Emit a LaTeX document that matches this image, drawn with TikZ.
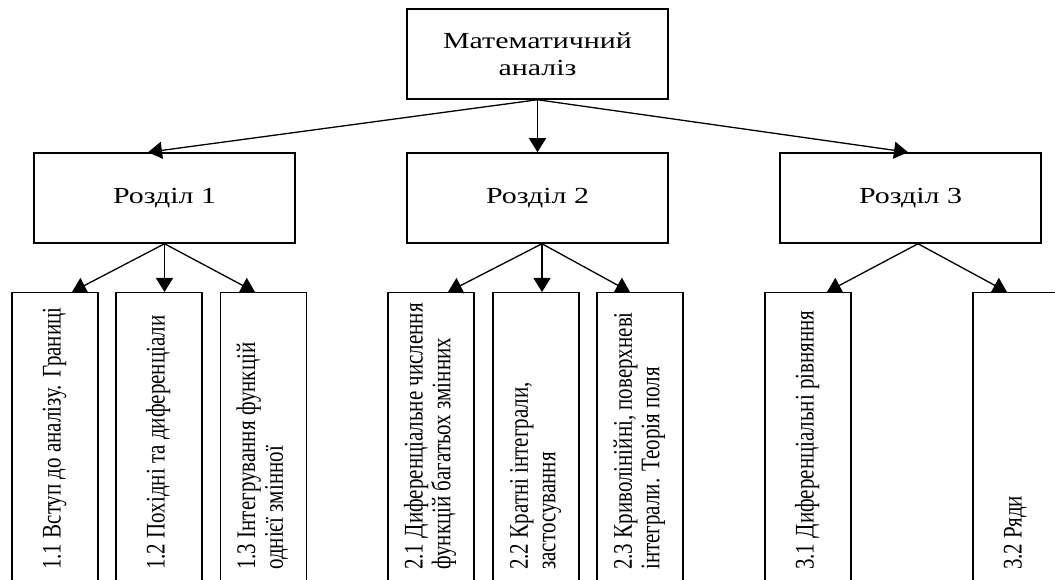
\documentclass[tikz,border=0pt]{standalone}
\usepackage{fontspec}
\setmainfont{Liberation Serif}
\newfontfamily\hfont[FakeStretch=1.3]{Liberation Serif}
\usepackage{graphicx}
\usetikzlibrary{arrows.meta}
\newcommand{\vlab}[1]{\scalebox{1}[1.28]{\fontsize{21}{21.5}\selectfont\begin{tabular}{@{}l@{}}#1\end{tabular}}}
\tikzset{
  box/.style={draw, line width=1.5pt, minimum width=261pt, minimum height=90pt, inner sep=0pt,
    align=center, font=\hfont\fontsize{23}{27}\selectfont},
  leaf/.style={draw, line width=1.5pt, minimum width=86pt, minimum height=317pt, inner sep=0pt, anchor=north},
  vtext/.style={rotate=90, anchor=west, inner sep=0pt},
  arr/.style={line width=1.3pt, -{Triangle[length=14pt,width=17pt]}}
}
\begin{document}
\begin{tikzpicture}[x=1pt,y=1pt]
\clip (0,0) rectangle (1055,579);
\node[box] (T) at (537.5,525) {Математичний\\аналіз};
\node[box] (R1) at (164.5,381) {Розділ 1};
\node[box] (R2) at (537.5,381) {Розділ 2};
\node[box] (R3) at (910.5,381) {Розділ 3};

\node[leaf] (c11) at (55,287) {};
\node[leaf] (c12) at (159,287) {};
\node[leaf] (c13) at (263.5,287) {};
\node[leaf] (c21) at (431,287) {};
\node[leaf] (c22) at (536,287) {};
\node[leaf] (c23) at (640,287) {};
\node[leaf] (c31) at (808,287) {};
\node[leaf] (c32) at (1016,287) {};

\node[vtext] (t11) at (55,9) {\vlab{1.1 Вступ до аналізу. Границі}};
\node[vtext] (t12) at (159,9) {\vlab{1.2 Похідні та диференціали}};
\node[vtext] (t13) at (263.5,9) {\vlab{1.3 Інтегрування функцій\\однієї змінної}};
\node[vtext] (t21) at (431,9) {\vlab{2.1 Диференціальне числення\\функцій багатьох змінних}};
\node[vtext] (t22) at (536,9) {\vlab{2.2 Кратні інтеграли,\\застосування}};
\node[vtext] (t23) at (640,9) {\vlab{2.3 Криволінійні, поверхневі\\інтеграли. Теорія поля}};
\node[vtext] (t31) at (808,9) {\vlab{3.1 Диференціальні рівняння}};
\node[vtext] (t32) at (1016,9) {\vlab{3.2 Ряди}};

\draw[arr] (T.south) -- ([xshift=-16.5pt]R1.north);
\draw[arr] (T.south) -- (R2.north);
\draw[arr] (T.south) -- ([xshift=-2.5pt]R3.north);

\draw[arr] (R1.south) -- ([xshift=17pt]c11.north);
\draw[arr] (R1.south) -- ([xshift=5.5pt]c12.north);
\draw[arr] (R1.south) -- ([xshift=-8.5pt]c13.north);

\draw[arr] ([xshift=4.5pt]R2.south) -- ([xshift=17pt]c21.north);
\draw[arr] ([xshift=4.5pt]R2.south) -- ([xshift=6pt]c22.north);
\draw[arr] ([xshift=4.5pt]R2.south) -- ([xshift=-10pt]c23.north);

\draw[arr] ([xshift=7.5pt]R3.south) -- ([xshift=19pt]c31.north);
\draw[arr] ([xshift=7.5pt]R3.south) -- ([xshift=-9pt]c32.north);
\end{tikzpicture}
\end{document}
